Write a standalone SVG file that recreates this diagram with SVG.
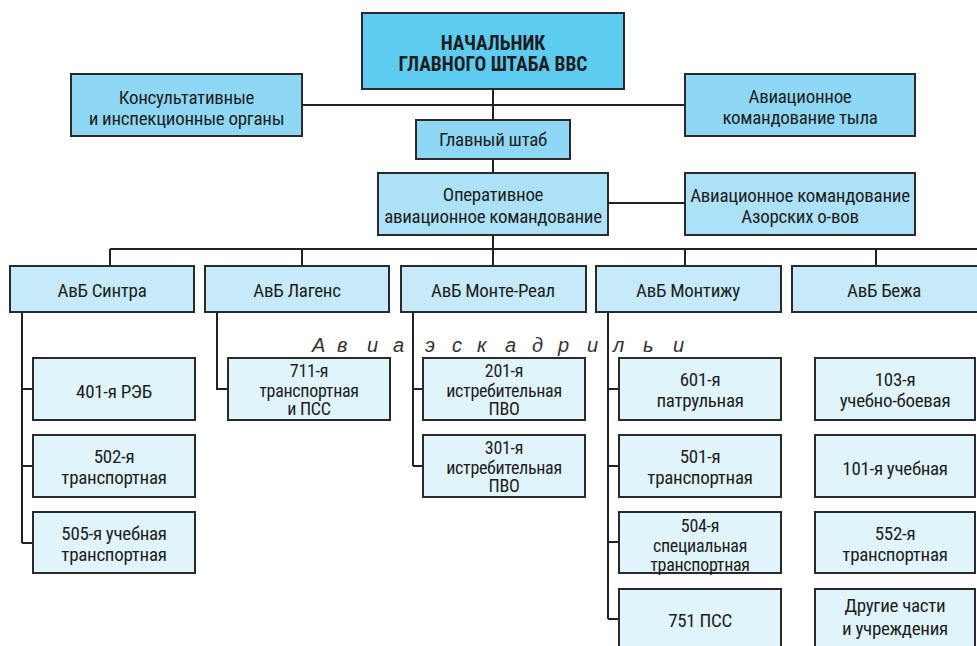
<svg xmlns="http://www.w3.org/2000/svg" width="977" height="646" viewBox="0 0 977 646">
<style>
text{font-family:"Liberation Sans Narrow","Roboto Condensed","Liberation Sans",sans-serif;font-size:19px;letter-spacing:-0.3px;fill:#1e1e1e;text-anchor:middle}
.b{font-weight:bold;font-size:19.5px;letter-spacing:0}
.s{font-size:18px}
.box{stroke:#2a2a2a;stroke-width:2}
.c0{fill:#5ecbf1}
.c1{fill:#8ed8f6}
.c2{fill:#ace1f8}
.c3{fill:#c6eaf9}
.c4{fill:#e0f4fc}
.ln{stroke:#222;stroke-width:2;fill:none}
.it{font-family:"Liberation Sans",sans-serif;font-style:italic;font-size:20px;letter-spacing:0;fill:#333;text-anchor:start}
</style>
<rect width="977" height="646" fill="#fff"/>
<g id="connectors">
<path class="ln" d="M493 89V120M493 159V173M493 235V249M302 105H685M608 203H685M110 249H977M110 249V266M302 249V266M493 249V266M685 249V266M876 249V266"/>
<path class="ln" d="M22 312V543M22 389H33M22 466H33M22 543H33"/>
<path class="ln" d="M217 312V389H228"/>
<path class="ln" d="M413 312V466M413 389H423M413 466H423"/>
<path class="ln" d="M608 312V619M608 389H619M608 466H619M608 542H619M608 619H619"/>
</g>
<g id="chief"><rect class="box c0" x="362" y="13" width="262" height="76" stroke-width="2.4"/><text class="b" x="493" y="50">НАЧАЛЬНИК</text><text class="b" x="493" y="71">ГЛАВНОГО ШТАБА ВВС</text></g>
<g id="konsult"><rect class="box c1" x="71" y="74" width="231" height="62"/><text x="186.5" y="104">Консультативные</text><text x="186.5" y="125">и инспекционные органы</text></g>
<g id="tyl"><rect class="box c1" x="685" y="74" width="230" height="62"/><text x="800" y="103">Авиационное</text><text x="800" y="124">командование тыла</text></g>
<g id="shtab"><rect class="box c1" x="416" y="120" width="154" height="39"/><text x="493" y="146">Главный штаб</text></g>
<g id="oper"><rect class="box c2" x="378" y="173" width="230" height="62"/><text x="493" y="201">Оперативное</text><text x="493" y="223">авиационное командование</text></g>
<g id="azor"><rect class="box c2" x="685" y="173" width="230" height="62"/><text x="800" y="202">Авиационное командование</text><text x="800" y="223">Азорских о-вов</text></g>
<g id="sintra"><rect class="box c3" x="10" y="266" width="184" height="46"/><text x="102" y="297">АвБ Синтра</text></g>
<g id="lagens"><rect class="box c3" x="205" y="266" width="184" height="46"/><text x="297" y="297">АвБ Лагенс</text></g>
<g id="montereal"><rect class="box c3" x="401" y="266" width="185" height="46"/><text x="493" y="297">АвБ Монте-Реал</text></g>
<g id="montizhu"><rect class="box c3" x="596" y="266" width="185" height="46"/><text x="688" y="297">АвБ Монтижу</text></g>
<g id="bezha"><rect class="box c3" x="792" y="266" width="190" height="46"/><text x="884" y="297">АвБ Бежа</text></g>
<text class="it" x="312 337 367 393 425 452 477 505 532 558 587 613 643 673" y="352">Авиаэскадрильи</text>
<g id="s401"><rect class="box c4" x="33" y="358" width="162" height="62"/><text x="114" y="398">401-я РЭБ</text></g>
<g id="s502"><rect class="box c4" x="33" y="435" width="162" height="62"/><text x="114" y="463">502-я</text><text x="114" y="484">транспортная</text></g>
<g id="s505"><rect class="box c4" x="33" y="512" width="162" height="61"/><text x="114" y="540">505-я учебная</text><text x="114" y="561">транспортная</text></g>
<g id="s711"><rect class="box c4" x="228" y="358" width="162" height="62"/><text class="s" x="309" y="377">711-я</text><text class="s" x="309" y="397">транспортная</text><text class="s" x="309" y="415">и ПСС</text></g>
<g id="s201"><rect class="box c4" x="423" y="358" width="162" height="62"/><text class="s" x="504" y="377">201-я</text><text class="s" x="504" y="397">истребительная</text><text class="s" x="504" y="415">ПВО</text></g>
<g id="s301"><rect class="box c4" x="423" y="435" width="162" height="62"/><text class="s" x="504" y="454">301-я</text><text class="s" x="504" y="474">истребительная</text><text class="s" x="504" y="492">ПВО</text></g>
<g id="s601"><rect class="box c4" x="619" y="358" width="162" height="62"/><text x="700" y="386">601-я</text><text x="700" y="407">патрульная</text></g>
<g id="s501"><rect class="box c4" x="619" y="435" width="162" height="62"/><text x="700" y="463">501-я</text><text x="700" y="484">транспортная</text></g>
<g id="s504"><rect class="box c4" x="619" y="512" width="162" height="61"/><text class="s" x="700" y="532">504-я</text><text class="s" x="700" y="552">специальная</text><text class="s" x="700" y="571">транспортная</text></g>
<g id="s751"><rect class="box c4" x="619" y="589" width="162" height="70"/><text x="700" y="627">751 ПСС</text></g>
<g id="s103"><rect class="box c4" x="815" y="358" width="160" height="62"/><text x="895" y="386">103-я</text><text x="895" y="407">учебно-боевая</text></g>
<g id="s101"><rect class="box c4" x="815" y="435" width="160" height="62"/><text x="895" y="475">101-я учебная</text></g>
<g id="s552"><rect class="box c4" x="815" y="512" width="160" height="61"/><text x="895" y="540">552-я</text><text x="895" y="561">транспортная</text></g>
<g id="sother"><rect class="box c4" x="815" y="589" width="160" height="70"/><text x="895" y="612">Другие части</text><text x="895" y="635">и учреждения</text></g>
</svg>
